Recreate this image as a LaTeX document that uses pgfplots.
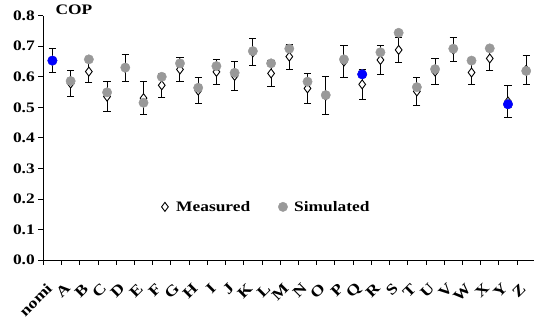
\documentclass[border=0pt]{standalone}
\usepackage{fontspec}
\setmainfont{Liberation Serif}[FakeStretch=1.2]
\usepackage{pgfplots}
\usepackage{pgfplotstable}
\pgfplotsset{compat=1.18}
\definecolor{simgray}{HTML}{999999}
\pgfplotstableread{
x meas err sim
0 0.652 0.039 0.653
1 0.578 0.044 0.586
2 0.617 0.036 0.657
3 0.535 0.048 0.549
4 0.629 0.043 0.630
5 0.530 0.053 0.515
6 0.572 0.039 0.600
7 0.624 0.038 0.644
8 0.555 0.042 0.564
9 0.616 0.040 0.635
10 0.603 0.048 0.613
11 0.680 0.044 0.684
12 0.611 0.042 0.644
13 0.666 0.041 0.692
14 0.562 0.049 0.584
15 0.538 0.062 0.540
16 0.650 0.052 0.657
17 0.575 0.050 0.608
18 0.655 0.047 0.680
19 0.688 0.042 0.744
20 0.552 0.047 0.566
21 0.617 0.042 0.625
22 0.689 0.040 0.692
23 0.614 0.039 0.653
24 0.660 0.038 0.693
25 0.519 0.052 0.510
26 0.623 0.047 0.619
}\datatable
\pgfplotstableread{
x sim
0 0.653
17 0.608
25 0.510
}\bluetable
\begin{document}
\begin{tikzpicture}
\useasboundingbox (-43.3pt,-60pt) rectangle (490.7pt,260pt);
\begin{axis}[
  scale only axis,
  width=492pt, height=244.3pt,
  xmin=-0.5, xmax=26.5,
  ymin=0, ymax=0.8,
  axis lines*=left,
  axis line style={line width=0.8pt},
  ytick={0,0.1,...,0.8},
  y tick label style={font=\fontsize{14.5}{16}\selectfont\bfseries,
    /pgf/number format/fixed, /pgf/number format/fixed zerofill,
    /pgf/number format/precision=1, /pgf/number format/assume math mode=true},
  xtick={0,...,26},
  xticklabels={nomi,A,B,C,D,E,F,G,H,I,J,K,L,M,N,O,P,Q,R,S,T,U,V,W,X,Y,Z},
  x tick label style={font=\fontsize{15}{16}\selectfont\bfseries, xshift=-3pt, yshift=-21pt, rotate=45, anchor=east, inner sep=0pt},
  major x tick style={draw=none},
  minor xtick={-0.5,0.5,...,26.5},
  minor tick length=5pt,
  major tick length=5pt,
  tick align=outside,
  tick style={black, line width=0.8pt},
  legend style={at={(axis cs:5.77,0.174)}, anchor=west, draw=none, fill=none,
    font=\fontsize{14.5}{16}\selectfont\bfseries, legend columns=2,
    /tikz/every even column/.append style={column sep=26pt}},
  legend image code/.code={\draw[#1] plot coordinates {(4pt,0pt)}; \path (0pt,0pt) (13pt,0pt);},
  clip=false,
]
\addplot[only marks, mark=none, forget plot,
  error bars/.cd, y dir=both, y explicit,
  error mark=-, error mark options={rotate=90, mark size=3.6pt, line width=1pt, black},
  error bar style={line width=1pt, black}]
  table[x=x, y=meas, y error=err] {\datatable};
\addplot[only marks, mark=diamond*, mark size=4.5pt,
  mark options={fill=white, draw=black, line width=0.9pt}]
  table[x=x, y=meas] {\datatable};
\addplot[only marks, mark=*, mark size=4.7pt,
  mark options={fill=simgray, draw=simgray}]
  table[x=x, y=sim] {\datatable};
\addplot[only marks, mark=*, mark size=4.7pt, forget plot,
  mark options={fill=blue, draw=blue}]
  table[x=x, y=sim] {\bluetable};
\legend{Measured, Simulated}
\node[anchor=base west, font=\fontsize{14.5}{16}\selectfont\bfseries, inner sep=0pt]
  at (rel axis cs:0,1) [xshift=12pt, yshift=1pt] {COP};
\end{axis}
\end{tikzpicture}
\end{document}
